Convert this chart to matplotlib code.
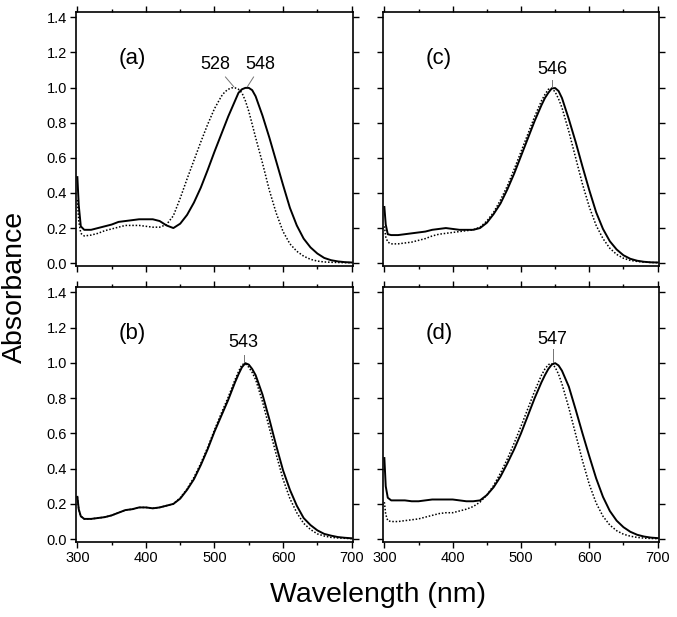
import matplotlib
matplotlib.use("Agg")
import matplotlib.pyplot as plt
from matplotlib.ticker import MultipleLocator, FormatStrFormatter

plt.rcParams['font.family'] = ['Liberation Sans', 'DejaVu Sans']

wavelength = [300, 302, 305, 310, 320, 330, 340, 350, 360, 370, 380, 390, 400, 410, 420, 430, 440,
              450, 460, 470, 480, 490, 500, 510, 515, 520, 525, 530, 535, 540, 545, 550, 555, 560,
              570, 580, 590, 600, 610, 620, 630, 640, 650, 660, 670, 680, 690, 700]

a_solid = [0.49, 0.33, 0.21, 0.19, 0.19, 0.20, 0.21, 0.22, 0.235, 0.24, 0.245, 0.25, 0.25, 0.25, 0.24, 0.215, 0.20,
           0.225, 0.275, 0.345, 0.43, 0.53, 0.635, 0.735, 0.785, 0.835, 0.88, 0.925, 0.97, 0.99, 0.998, 0.998, 0.985, 0.95,
           0.84, 0.715, 0.58, 0.445, 0.315, 0.215, 0.14, 0.09, 0.055, 0.03, 0.017, 0.01, 0.006, 0.004]
a_dotted = [0.36, 0.24, 0.17, 0.155, 0.16, 0.17, 0.185, 0.195, 0.205, 0.215, 0.215, 0.215, 0.21, 0.205, 0.205, 0.22, 0.27,
            0.37, 0.48, 0.585, 0.69, 0.79, 0.88, 0.95, 0.975, 0.99, 0.998, 0.998, 0.99, 0.97, 0.925, 0.865, 0.79, 0.715,
            0.57, 0.415, 0.285, 0.18, 0.11, 0.068, 0.04, 0.022, 0.012, 0.007, 0.005, 0.004, 0.003, 0.003]

b_solid = [0.24, 0.17, 0.13, 0.115, 0.115, 0.12, 0.125, 0.135, 0.15, 0.165, 0.17, 0.18, 0.18, 0.175, 0.18, 0.19, 0.20,
           0.23, 0.28, 0.34, 0.42, 0.51, 0.61, 0.70, 0.745, 0.79, 0.84, 0.89, 0.935, 0.975, 0.998, 0.99, 0.965, 0.93,
           0.82, 0.68, 0.53, 0.39, 0.28, 0.19, 0.12, 0.08, 0.05, 0.03, 0.02, 0.012, 0.008, 0.005]
b_dotted = [0.24, 0.17, 0.13, 0.115, 0.115, 0.12, 0.125, 0.135, 0.15, 0.165, 0.17, 0.18, 0.18, 0.175, 0.18, 0.19, 0.20,
            0.235, 0.285, 0.35, 0.43, 0.52, 0.62, 0.715, 0.76, 0.805, 0.855, 0.905, 0.95, 0.99, 0.995, 0.975, 0.945, 0.905,
            0.78, 0.63, 0.48, 0.34, 0.23, 0.15, 0.09, 0.055, 0.03, 0.018, 0.01, 0.007, 0.005, 0.003]

c_solid = [0.32, 0.22, 0.165, 0.16, 0.16, 0.165, 0.17, 0.175, 0.18, 0.19, 0.195, 0.20, 0.195, 0.19, 0.19, 0.19, 0.20,
           0.23, 0.28, 0.34, 0.42, 0.51, 0.61, 0.71, 0.76, 0.81, 0.855, 0.90, 0.94, 0.97, 0.995, 0.997, 0.98, 0.94,
           0.82, 0.69, 0.55, 0.415, 0.29, 0.195, 0.125, 0.078, 0.045, 0.025, 0.014, 0.008, 0.005, 0.004]
c_dotted = [0.21, 0.15, 0.12, 0.11, 0.11, 0.115, 0.12, 0.13, 0.14, 0.155, 0.165, 0.17, 0.175, 0.18, 0.185, 0.19, 0.205,
            0.24, 0.29, 0.36, 0.44, 0.535, 0.635, 0.735, 0.785, 0.835, 0.88, 0.925, 0.96, 0.99, 0.995, 0.975, 0.935, 0.885,
            0.75, 0.60, 0.45, 0.32, 0.215, 0.14, 0.085, 0.05, 0.028, 0.016, 0.01, 0.006, 0.004, 0.003]

d_solid = [0.46, 0.30, 0.235, 0.22, 0.22, 0.22, 0.215, 0.215, 0.22, 0.225, 0.225, 0.225, 0.225, 0.22, 0.215, 0.215, 0.22,
           0.25, 0.295, 0.355, 0.43, 0.51, 0.60, 0.70, 0.75, 0.80, 0.845, 0.89, 0.93, 0.965, 0.99, 0.998, 0.985, 0.955,
           0.865, 0.735, 0.60, 0.47, 0.345, 0.24, 0.16, 0.105, 0.068, 0.042, 0.025, 0.015, 0.009, 0.006]
d_dotted = [0.21, 0.14, 0.105, 0.10, 0.10, 0.105, 0.11, 0.115, 0.125, 0.135, 0.145, 0.15, 0.15, 0.16, 0.17, 0.185, 0.21,
            0.25, 0.305, 0.375, 0.455, 0.545, 0.64, 0.74, 0.79, 0.84, 0.885, 0.93, 0.965, 0.99, 0.995, 0.975, 0.935, 0.88,
            0.745, 0.595, 0.445, 0.31, 0.205, 0.13, 0.08, 0.048, 0.028, 0.017, 0.01, 0.006, 0.004, 0.003]

panel_labels = ['(a)', '(b)', '(c)', '(d)']
peak_labels = [['528', '548'], ['543'], ['546'], ['547']]
peak_positions = [[528, 548], [543], [546], [547]]

W, H = 677, 617
fig = plt.figure(figsize=(W / 100, H / 100), dpi=100)

def frac(l, t, r, b):
    return [l / W, 1 - b / H, (r - l) / W, (b - t) / H]

rects = [frac(76, 12, 353, 266), frac(76, 287, 353, 542),
         frac(383, 12, 659, 266), frac(383, 287, 659, 542)]
series = [(a_solid, a_dotted), (b_solid, b_dotted), (c_solid, c_dotted), (d_solid, d_dotted)]

# annotation layout: text position and leader line end per peak label
text_pos = [[(501.6, 1.13), (567.5, 1.13)], [(542.6, 1.115)], [(545.5, 1.105)], [(545.5, 1.13)]]
line_ends = [[(516, 1.06), (557, 1.06)], [(543, 1.045)], [(546, 1.045)], [(547, 1.08)]]

for i, rect in enumerate(rects):
    ax = fig.add_axes(rect)
    solid, dotted = series[i]
    ax.plot(wavelength, dotted, color='black', lw=1.1, linestyle=(0, (1, 1.2)))
    ax.plot(wavelength, solid, color='black', lw=1.4)
    ax.set_xlim(298, 702)
    ax.set_ylim(-0.016, 1.43)
    ax.xaxis.set_major_locator(MultipleLocator(100))
    ax.xaxis.set_minor_locator(MultipleLocator(50))
    ax.yaxis.set_major_locator(MultipleLocator(0.2))
    ax.yaxis.set_major_formatter(FormatStrFormatter('%.1f'))
    ax.tick_params(which='both', direction='out', top=True, right=True, width=1.0, labelsize=10.5, pad=2)
    ax.tick_params(which='major', length=4.5)
    ax.tick_params(which='minor', length=2.5)
    ax.tick_params(labelleft=(i < 2), labelbottom=(i % 2 == 1))
    for s in ax.spines.values():
        s.set_linewidth(1.2)
    ax.text(380, 1.165, panel_labels[i], fontsize=16, ha='center', va='center')
    for lab, pk, tp, le in zip(peak_labels[i], peak_positions[i], text_pos[i], line_ends[i]):
        ax.plot([pk, le[0]], [1.005, le[1]], color='0.45', lw=0.7)
        ax.text(tp[0], tp[1], lab, fontsize=13, ha='center', va='center')

fig.text(15 / W, 1 - 287 / H, 'Absorbance', rotation=90, fontsize=20.5, ha='center', va='center')
fig.text(378 / W, 1 - 595 / H, 'Wavelength (nm)', fontsize=20.5, ha='center', va='center')

fig.savefig('out.png', dpi=100)
